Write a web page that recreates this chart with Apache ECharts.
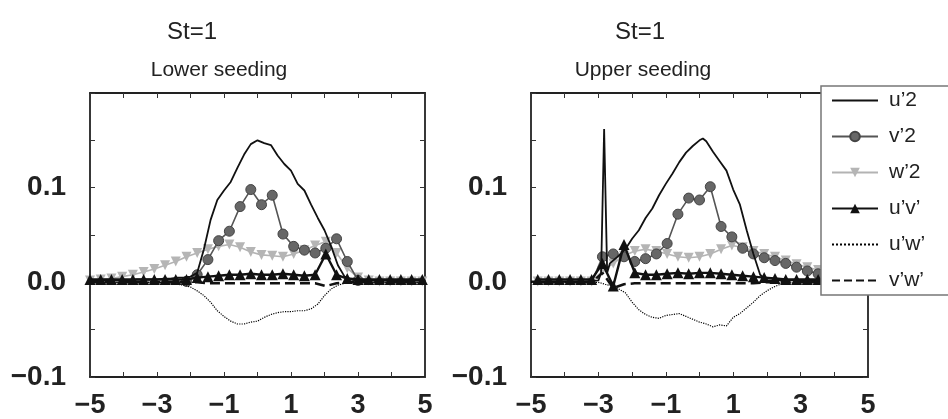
<!DOCTYPE html>
<html><head><meta charset="utf-8">
<script src="https://cdn.jsdelivr.net/npm/echarts@6/dist/echarts.min.js"></script>
<style>html,body{margin:0;padding:0;background:#fff}#c{width:948px;height:419px}</style>
</head><body><div id="c"></div>
<script>
// ---------- data ----------
const seriesNames = ['u\u20192', 'v\u20192', 'w\u20192', 'u\u2019v\u2019', 'u\u2019w\u2019', 'v\u2019w\u2019'];
const panelTitles = ['St=1', 'St=1'];
const panelSubtitles = ['Lower seeding', 'Upper seeding'];
const xTicks = [-5, -3, -1, 1, 3, 5];
const xTickLabels = ['\u22125', '\u22123', '\u22121', '1', '3', '5'];
const yTicks = [-0.1, 0, 0.1];
const yTickLabels = ['\u22120.1', '0.0', '0.1'];

// fine grid (continuous lines)
const xFine = [-5,-4.8,-4.6,-4.4,-4.2,-4,-3.8,-3.6,-3.4,-3.2,-3,-2.8,-2.6,-2.4,-2.2,-2,-1.8,-1.6,-1.4,-1.2,-1,-0.8,-0.6,-0.4,-0.2,0,0.2,0.4,0.6,0.8,1,1.2,1.4,1.6,1.8,2,2.2,2.4,2.6,2.8,3,3.2,3.4,3.6,3.8,4,4.2,4.4,4.6,4.8,5];
// marker grids
const xMarkL = [-5,-4.68,-4.36,-4.04,-3.72,-3.4,-3.08,-2.76,-2.44,-2.12,-1.8,-1.48,-1.16,-0.84,-0.52,-0.2,0.12,0.44,0.76,1.08,1.4,1.72,2.04,2.36,2.68,3,3.32,3.64,3.96,4.28,4.6,4.92];
const xMarkR = [-4.8,-4.48,-4.16,-3.84,-3.52,-3.2,-2.88,-2.56,-2.24,-1.92,-1.6,-1.28,-0.96,-0.64,-0.32,0,0.32,0.64,0.96,1.28,1.6,1.92,2.24,2.56,2.88,3.2,3.52,3.84,4.16,4.48,4.8];

// ----- Lower seeding -----
const u2L = [0.002,0.002,0.002,0.002,0.002,0.002,0.002,0.003,0.003,0.003,0.003,0.004,0.004,0.005,0.005,0.006,0.010,0.035,0.066,0.087,0.097,0.106,0.121,0.135,0.146,0.150,0.147,0.145,0.134,0.125,0.118,0.104,0.097,0.082,0.068,0.055,0.038,0.018,0.006,0.003,0.002,0.002,0.002,0.002,0.002,0.002,0.002,0.002,0.002,0.002,0.002];
const uwL = [0,0,0,0,0,0,0,0,0,0,0,0,-0.001,-0.002,-0.003,-0.005,-0.009,-0.014,-0.021,-0.030,-0.036,-0.041,-0.044,-0.044,-0.042,-0.041,-0.037,-0.034,-0.032,-0.031,-0.031,-0.030,-0.030,-0.028,-0.023,-0.014,-0.007,-0.003,-0.001,0,0,0,0,0,0,0,0,0,0,0,0];
const v2L = [0,0,0,0,0,0,0,0,0,0.001,0.008,0.024,0.044,0.054,0.080,0.098,0.082,0.092,0.051,0.038,0.034,0.031,0.036,0.046,0.022,0.002,0,0,0,0,0,0];
const w2L = [0.002,0.003,0.004,0.006,0.008,0.011,0.014,0.018,0.022,0.027,0.031,0.035,0.038,0.040,0.037,0.032,0.029,0.028,0.027,0.030,0.034,0.039,0.043,0.031,0.015,0.005,0.002,0.001,0.001,0.001,0.001,0.001];
const uvL = [0.003,0.003,0.003,0.003,0.003,0.003,0.003,0.003,0.003,0.003,0.005,0.006,0.007,0.008,0.008,0.009,0.008,0.008,0.009,0.008,0.007,0.008,0.030,0.008,0.004,0.003,0.003,0.003,0.003,0.003,0.003,0.003];
const vwL = [0,0,0,0,0,0,0,0,0,0,0,-0.001,-0.001,-0.001,-0.001,-0.001,-0.001,-0.001,-0.001,-0.001,-0.001,-0.001,-0.004,-0.001,0,0,0,0,0,0,0,0];

// ----- Upper seeding -----
const u2RX = [-5,-4,-3.4,-3.0,-2.92,-2.83,-2.74,-2.66,-2.4,-2.2,-2.0,-1.8,-1.6,-1.4,-1.2,-1.0,-0.8,-0.6,-0.4,-0.2,0.0,0.1,0.2,0.4,0.6,0.8,1.0,1.2,1.4,1.6,1.8,2.0,3.0,4.0,5];
const u2RY = [0.001,0.001,0.001,0.002,0.010,0.162,0.010,0.020,0.028,0.035,0.046,0.055,0.068,0.078,0.092,0.104,0.115,0.127,0.137,0.144,0.150,0.152,0.149,0.138,0.128,0.118,0.098,0.082,0.055,0.030,0.008,0.002,0.002,0.002,0.002];
const uwR = [0,0,0,0,0,0,0,0,0,0,0,-0.002,-0.004,-0.007,-0.011,-0.021,-0.029,-0.034,-0.037,-0.038,-0.035,-0.034,-0.033,-0.036,-0.039,-0.042,-0.044,-0.047,-0.045,-0.046,-0.037,-0.033,-0.027,-0.021,-0.014,-0.009,-0.005,-0.002,-0.001,0,0,0,0,0,0,0,0,0,0,0,0];
const v2R = [0,0,0,0,0,0,0.027,0.030,0.027,0.022,0.025,0.030,0.041,0.072,0.089,0.087,0.101,0.059,0.048,0.036,0.030,0.026,0.023,0.020,0.016,0.012,0.009,0.006,0.004,0.003,0.002];
const w2R = [0.001,0.001,0.001,0.001,0.001,0.001,0.012,0.020,0.028,0.033,0.035,0.033,0.030,0.027,0.026,0.027,0.030,0.035,0.039,0.037,0.033,0.030,0.027,0.023,0.019,0.016,0.013,0.011,0.009,0.008,0.007];
const uvR = [0.003,0.003,0.003,0.003,0.003,0.003,0.020,-0.004,0.040,0.010,0.008,0.008,0.009,0.010,0.009,0.010,0.010,0.009,0.008,0.007,0.006,0.005,0.004,0.003,0.003,0.003,0.003,0.003,0.003,0.003,0.003];
const vwR = [0,0,0,0,0,0,0.010,-0.006,-0.002,-0.001,-0.001,-0.001,-0.001,-0.001,-0.001,-0.001,-0.001,-0.001,-0.001,-0.001,-0.001,0,0,0,0,0,0,0,0,0,0];

// ---------- chart ----------
const FONT = '"Liberation Sans", Arial, Helvetica, sans-serif';
const zip = (xs, ys) => xs.map((x, i) => [x, ys[i]]);
const near = (arr, v) => arr.findIndex(t => Math.abs(t - v) < 1e-6);

const grids = [
  {left: 90, top: 93, width: 335, height: 284},
  {left: 531, top: 93, width: 337, height: 284}
];
const axisLine = {show: true, onZero: false, lineStyle: {color: '#222', width: 1.8}};
const tick = {show: true, inside: true, length: 5, lineStyle: {color: '#333', width: 1}};

const xAxes = [], yAxes = [];
grids.forEach((g, gi) => {
  ['bottom', 'top'].forEach(pos => xAxes.push({
    type: 'value', gridIndex: gi, position: pos, min: -5, max: 5, interval: 1,
    axisLine, axisTick: tick, splitLine: {show: false},
    axisLabel: {show: pos === 'bottom', margin: 15, fontSize: 27, fontWeight: 'bold', color: '#222', fontFamily: FONT,
      formatter: v => { const i = near(xTicks, v); return i >= 0 ? xTickLabels[i] : ''; }}
  }));
  ['left', 'right'].forEach(pos => yAxes.push({
    type: 'value', gridIndex: gi, position: pos, min: -0.1, max: 0.2, interval: 0.05,
    axisLine, axisTick: tick, splitLine: {show: false},
    axisLabel: {show: pos === 'left', margin: 24, fontSize: 28, fontWeight: 'bold', color: '#222', fontFamily: FONT,
      formatter: v => { const i = near(yTicks, v); return i >= 0 ? yTickLabels[i] : ''; }}
  }));
});

// circles lying on the zero line are hidden under the u'v' band in the reference
const circleSize = v => (Math.abs(v[1]) < 0.001 ? 0 : 10);

const styles = [
  {symbol: 'none', lineStyle: {color: '#111', width: 1.8}, itemStyle: {color: '#111'}, z: 4},
  {symbol: 'circle', symbolSize: circleSize, lineStyle: {color: '#555', width: 1.6}, itemStyle: {color: '#676767', borderColor: '#444', borderWidth: 1}, z: 3},
  {symbol: 'triangle', symbolRotate: 180, symbolSize: 10, lineStyle: {color: '#b3b3b3', width: 1.6}, itemStyle: {color: '#b5b5b5'}, z: 2},
  {symbol: 'triangle', symbolSize: 11, lineStyle: {color: '#111', width: 2.4}, itemStyle: {color: '#111'}, z: 6},
  {symbol: 'none', lineStyle: {color: '#000', width: 1.2, type: 'dotted'}, itemStyle: {color: '#000'}, z: 5},
  {symbol: 'none', lineStyle: {color: '#111', width: 2.5, type: 'dashed'}, itemStyle: {color: '#111'}, z: 5}
];

const panelData = [
  [zip(xFine, u2L), zip(xMarkL, v2L), zip(xMarkL, w2L), zip(xMarkL, uvL), zip(xFine, uwL), zip(xMarkL, vwL)],
  [zip(u2RX, u2RY), zip(xMarkR, v2R), zip(xMarkR, w2R), zip(xMarkR, uvR), zip(xFine, uwR), zip(xMarkR, vwR)]
];

const series = [];
panelData.forEach((sets, gi) => {
  sets.forEach((data, si) => {
    series.push(Object.assign({
      type: 'line', name: seriesNames[si], data,
      xAxisIndex: gi * 2, yAxisIndex: gi * 2,
      showSymbol: true, showAllSymbol: true, animation: false, silent: true, clip: true
    }, styles[si]));
  });
});

const titleX = [192, 640];
const subtitleX = [219, 643];
const graphic = [];
titleX.forEach((cx, i) => {
  graphic.push({type: 'text', x: cx, y: 32, style: {text: panelTitles[i], font: '24px ' + FONT, fill: '#222', align: 'center', verticalAlign: 'middle', textAlign: 'center', textVerticalAlign: 'middle'}});
  graphic.push({type: 'text', x: subtitleX[i], y: 70, style: {text: panelSubtitles[i], font: '21px ' + FONT, fill: '#222', align: 'center', verticalAlign: 'middle', textAlign: 'center', textVerticalAlign: 'middle'}});
});

const hidden = {color: 'rgba(0,0,0,0)', borderWidth: 0, opacity: 0};
const legendData = seriesNames.map((n, i) => (styles[i].symbol === 'none' ? {name: n, itemStyle: hidden} : {name: n}));

const chart = echarts.init(document.getElementById('c'));
chart.setOption({
  backgroundColor: '#fff',
  animation: false,
  grid: grids,
  xAxis: xAxes,
  yAxis: yAxes,
  series,
  graphic,
  legend: {
    orient: 'vertical', left: 821, top: 86, data: legendData,
    itemWidth: 46, itemHeight: 12, itemGap: 15, padding: [4, 30, 4, 10],
    borderColor: '#777', borderWidth: 1.5, backgroundColor: '#fff',
    textStyle: {fontSize: 21, color: '#222', fontFamily: FONT, padding: [0, 0, 0, 6]},
    selectedMode: false, z: 10
  }
});
</script></body></html>
